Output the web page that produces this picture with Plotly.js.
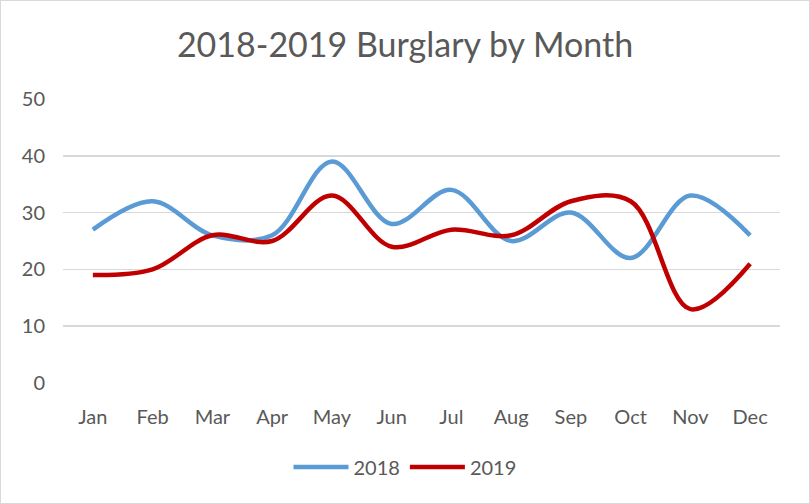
<!DOCTYPE html>
<html>
<head>
<meta charset="utf-8">
<script src="https://cdn.plot.ly/plotly-3.0.1.min.js"></script>
<style>
html,body{margin:0;padding:0;background:#fff;}
#chart{width:810px;height:504px;box-sizing:border-box;border:1px solid #d9d9d9;}
</style>
</head>
<body>
<div id="chart"></div>
<script>
const months = ["Jan","Feb","Mar","Apr","May","Jun","Jul","Aug","Sep","Oct","Nov","Dec"];
const burglary2018 = [27, 32, 26, 26, 39, 28, 34, 25, 30, 22, 33, 26];
const burglary2019 = [19, 20, 26, 25, 33, 24, 27, 26, 32, 32, 13, 21];
const yTicks = [0, 10, 20, 30, 40, 50];

const font = "Lato, 'Noto Sans', 'Liberation Sans', sans-serif";
const grey = "#595959";

const traces = [
  {x: months, y: burglary2018, name: "2018", type: "scatter", mode: "lines",
   line: {color: "#5B9BD5", width: 4.5, shape: "spline", smoothing: 1}},
  {x: months, y: burglary2019, name: "2019", type: "scatter", mode: "lines",
   line: {color: "#C00000", width: 4.5, shape: "spline", smoothing: 1}}
];

const layout = {
  width: 808, height: 502,
  margin: {l: 62, r: 29, t: 98, b: 120},
  paper_bgcolor: "#fff", plot_bgcolor: "#fff",
  font: {family: font, color: grey, size: 20},
  title: {text: "2018-2019 Burglary by Month", font: {size: 34, color: grey, family: font},
          x: 0.5, xanchor: "center", y: 1 - 44/502, yanchor: "middle", yref: "container"},
  xaxis: {type: "category", range: [-0.5, 11.5], showgrid: false, zeroline: false,
          showline: false, ticks: "outside", ticklen: 16, tickcolor: "rgba(0,0,0,0)",
          tickfont: {size: 20, color: grey}},
  yaxis: {range: [0, 50], tickvals: yTicks, ticktext: yTicks.map(String),
          showgrid: true, gridcolor: "#d9d9d9", gridwidth: 1.5, zeroline: false,
          showline: false, ticks: "outside", ticklen: 13, tickcolor: "rgba(0,0,0,0)",
          tickfont: {size: 20, color: grey}},
  showlegend: true,
  legend: {orientation: "h", x: 0.5, xanchor: "center", xref: "container",
           y: 1 - 466/502, yanchor: "middle", yref: "container",
           font: {size: 20, color: grey}, itemwidth: 55}
};

Plotly.newPlot("chart", traces, layout, {displayModeBar: false, staticPlot: true});
</script>
</body>
</html>
